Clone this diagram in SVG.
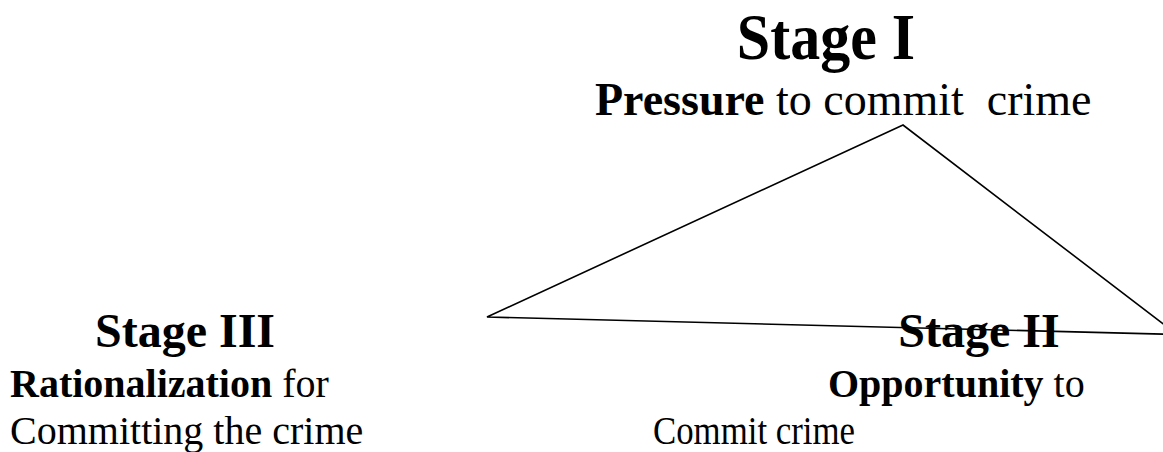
<svg xmlns="http://www.w3.org/2000/svg" width="1163" height="452" viewBox="0 0 1163 452">
<style>
text{font-family:"Liberation Serif","Times New Roman",serif;fill:#000}
.b{font-weight:bold}
.edge{fill:none;stroke:#000;stroke-width:1.6}
</style>
<rect width="1163" height="452" fill="#fff"/>
<g id="connectors">
<path class="edge" d="M903,125 L487,317 L1177,334.5 Z"/>
</g>
<g id="stage1">
<text class="b" transform="translate(826,59) scale(1,1.08)" font-size="60" text-anchor="middle">Stage I</text>
<text x="595" y="115" font-size="46" xml:space="preserve"><tspan class="b">Pressure</tspan> to commit  crime</text>
</g>
<g id="stage3">
<text class="b" x="185" y="347" font-size="48" text-anchor="middle">Stage III</text>
<text x="10" y="397" font-size="40"><tspan class="b">Rationalization</tspan> for</text>
<text x="10" y="444" font-size="40">Committing the crime</text>
</g>
<g id="stage2">
<text class="b" x="979" y="347" font-size="48" text-anchor="middle">Stage II</text>
<text x="828" y="397" font-size="40"><tspan class="b">Opportunity</tspan> to</text>
<text x="653" y="444" font-size="40" textLength="202" lengthAdjust="spacingAndGlyphs">Commit crime</text>
</g>
</svg>
